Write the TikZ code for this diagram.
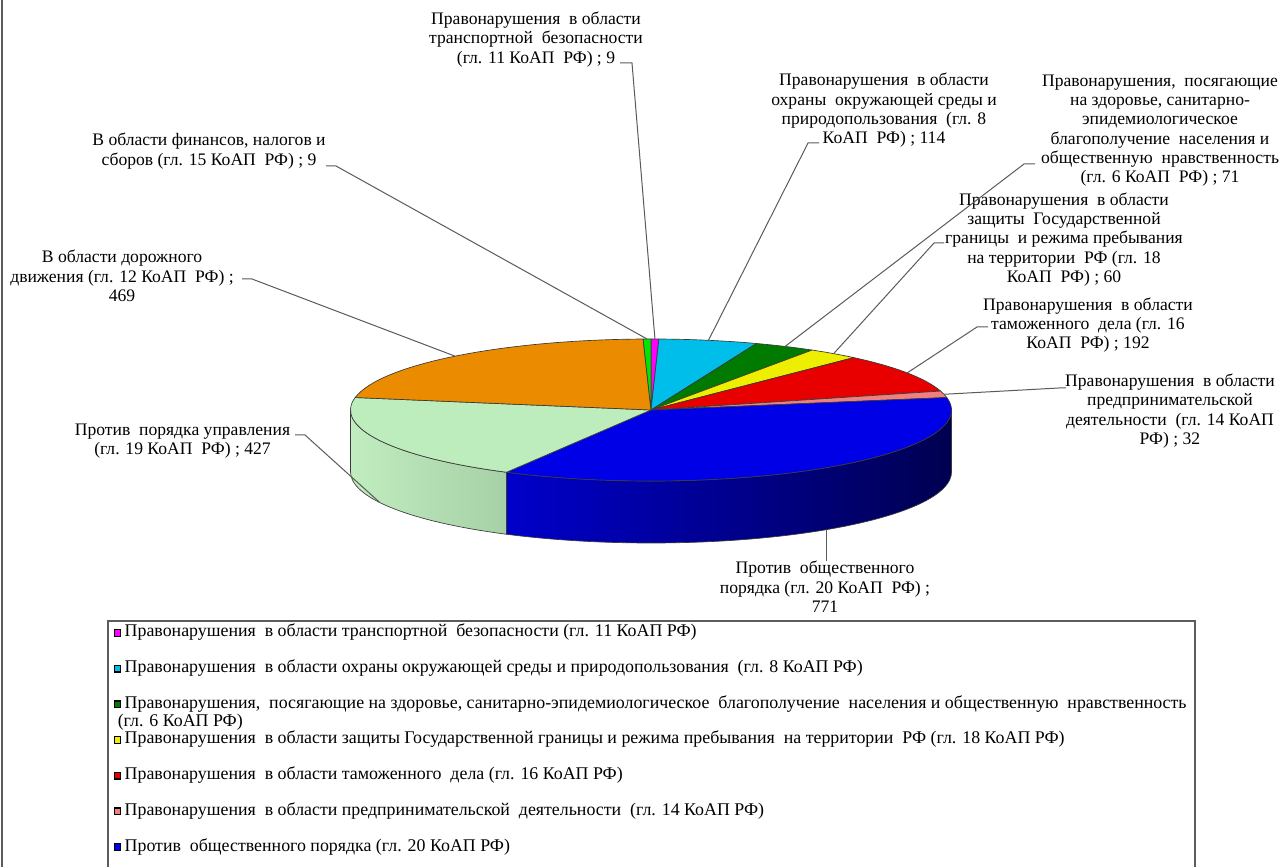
\documentclass[tikz,border=0pt]{standalone}
\usepackage{fontspec}
\setmainfont{Liberation Serif}
\usepackage{xcolor}
\usetikzlibrary{positioning}

\definecolor{trcol}{HTML}{FF00FF}
\definecolor{natcol}{HTML}{00BEEA}
\definecolor{hlthcol}{HTML}{007A00}
\definecolor{brdcol}{HTML}{EEEE00}
\definecolor{cuscol}{HTML}{E80000}
\definecolor{buscol}{HTML}{F07F7F}
\definecolor{pubcol}{HTML}{0000E6}
\definecolor{mgmtcol}{HTML}{BDECBD}
\definecolor{roadcol}{HTML}{EB8C00}
\definecolor{fincol}{HTML}{00E600}
\definecolor{edgecol}{HTML}{3A3A3A}
\definecolor{leadcol}{HTML}{5A5A5A}
\definecolor{framecol}{HTML}{5C5C5C}

\begin{document}
\begin{tikzpicture}[x=0.75pt, y=0.75pt, node distance=26.75pt]
% Define styles
\tikzstyle{slice} = [draw=edgecol, line width=0.5pt, line join=round]
\tikzstyle{pie r} = [x radius=300.5, y radius=71]
\tikzstyle{leader} = [draw=leadcol, line width=0.75pt]
\tikzstyle{lbl} = [align=center, inner sep=0pt, font=\fontsize{13.2}{14.5}\selectfont]
\tikzstyle{legmark} = [rectangle, draw=black, line width=0.9pt, minimum size=5pt, inner sep=0pt]
\tikzstyle{legtext} = [inner sep=0pt, text height=9pt, text depth=3pt, font=\fontsize{13.4}{14.5}\selectfont]

\useasboundingbox (0,0) rectangle (1280,867);
\draw [line width=1.5pt, framecol] (2,0) -- (2,867);

% Pie centre (top face and bottom face)
\coordinate (c) at (651,457);
\coordinate (cb) at (651,395);

% Front wall of the pie
\shadedraw [slice, left color=mgmtcol!95!white, right color=mgmtcol!88!black] ([shift={(-180:300.5 and 71)}]c) arc[pie r, start angle=-180, end angle=-118.747] -- ++(0,-62) arc[pie r, start angle=-118.747, end angle=-180] -- cycle;
\shadedraw [slice, left color=pubcol!88!black, right color=pubcol!35!black] ([shift={(-118.747:300.5 and 71)}]c) arc[pie r, start angle=-118.747, end angle=0] -- ++(0,-62) arc[pie r, start angle=0, end angle=-118.747] -- cycle;

% Top face, clockwise from twelve o'clock
\filldraw [slice, fill=trcol] (c) -- ++(90:300.5 and 71) arc[pie r, start angle=90, end angle=88.496] -- cycle;
\filldraw [slice, fill=natcol] (c) -- ++(88.496:300.5 and 71) arc[pie r, start angle=88.496, end angle=69.443] -- cycle;
\filldraw [slice, fill=hlthcol] (c) -- ++(69.443:300.5 and 71) arc[pie r, start angle=69.443, end angle=57.577] -- cycle;
\filldraw [slice, fill=brdcol] (c) -- ++(57.577:300.5 and 71) arc[pie r, start angle=57.577, end angle=47.549] -- cycle;
\filldraw [slice, fill=cuscol] (c) -- ++(47.549:300.5 and 71) arc[pie r, start angle=47.549, end angle=15.460] -- cycle;
\filldraw [slice, fill=buscol] (c) -- ++(15.460:300.5 and 71) arc[pie r, start angle=15.460, end angle=10.111] -- cycle;
\filldraw [slice, fill=pubcol] (c) -- ++(10.111:300.5 and 71) arc[pie r, start angle=10.111, end angle=-118.747] -- cycle;
\filldraw [slice, fill=mgmtcol] (c) -- ++(-118.747:300.5 and 71) arc[pie r, start angle=-118.747, end angle=-190.111] -- cycle;
\filldraw [slice, fill=roadcol] (c) -- ++(-190.111:300.5 and 71) arc[pie r, start angle=-190.111, end angle=-268.496] -- cycle;
\filldraw [slice, fill=fincol] (c) -- ++(-268.496:300.5 and 71) arc[pie r, start angle=-268.496, end angle=-270] -- cycle;

% Points on the rim where the leaders start
\coordinate (ptransport) at ([shift={(89.25:300.5 and 71)}]c);
\coordinate (pnature) at ([shift={(78.97:300.5 and 71)}]c);
\coordinate (phealth) at ([shift={(63.51:300.5 and 71)}]c);
\coordinate (pborder) at ([shift={(52.56:300.5 and 71)}]c);
\coordinate (pcustoms) at ([shift={(31.5:300.5 and 71)}]c);
\coordinate (pbusiness) at ([shift={(12.79:300.5 and 71)}]c);
\coordinate (ppublic) at ([shift={(-54.32:300.5 and 71)}]cb);
\coordinate (pmanagement) at ([shift={(-154.43:300.5 and 71)}]cb);
\coordinate (proad) at ([shift={(130.7:300.5 and 71)}]c);
\coordinate (pfinance) at ([shift={(90.75:300.5 and 71)}]c);

% Data labels
\node (transport) [lbl] at (536,827.5) {Правонарушения~ в области\\транспортной~ безопасности\\(гл. 11 КоАП~ РФ) ; 9};
\node (finance) [lbl] at (209,716) {В области финансов, налогов и\\сборов (гл. 15 КоАП~ РФ) ; 9};
\node (road) [lbl] at (122,591) {В области дорожного\\движения (гл. 12 КоАП~ РФ) ;\\469};
\node (management) [lbl] at (182.5,426) {Против~ порядка управления\\(гл. 19 КоАП~ РФ) ; 427};
\node (publicorder) [lbl] at (825,280) {Против~ общественного\\порядка (гл. 20 КоАП~ РФ) ;\\771};
\node (business) [lbl] at (1170,456) {Правонарушения~ в области\\предпринимательской\\деятельности~ (гл. 14 КоАП\\РФ) ; 32};
\node (customs) [lbl] at (1088,542) {Правонарушения~ в области\\таможенного~ дела (гл. 16\\КоАП~ РФ) ; 192};
\node (border) [lbl] at (1064,627.5) {Правонарушения~ в области\\защиты~ Государственной\\границы~ и режима пребывания\\на территории~ РФ (гл. 18\\КоАП~ РФ) ; 60};
\node (health) [lbl] at (1160,736.5) {Правонарушения,~ посягающие\\на здоровье, санитарно-\\эпидемиологическое\\благополучение~ населения и\\общественную~ нравственность\\(гл. 6 КоАП~ РФ) ; 71};
\node (nature) [lbl] at (884,756.5) {Правонарушения~ в области\\охраны~ окружающей среды и\\природопользования~ (гл. 8\\КоАП~ РФ) ; 114};

% Leader knees
\coordinate (ktransport) at (632,804);
\coordinate (kfinance) at (336,701);
\coordinate (kroad) at (252,588);
\coordinate (kmanagement) at (305,432);
\coordinate (kbusiness) at (1059,479);
\coordinate (kcustoms) at (977,540);
\coordinate (kborder) at (934,624);
\coordinate (khealth) at (1024,703);
\coordinate (knature) at (808,724);

% Draw leaders
\draw [leader] (ptransport) -- (ktransport) -- ++(-12,0);
\draw [leader] (pfinance) -- (kfinance) -- ++(-10,0);
\draw [leader] (proad) -- (kroad) -- ++(-10,0);
\draw [leader] (pmanagement) -- (kmanagement) -- ++(-10,0);
\draw [leader] (ppublic) -- (ppublic |- publicorder.north);
\draw [leader] (pbusiness) -- (kbusiness) -- ++(7,0);
\draw [leader] (pcustoms) -- (kcustoms) -- ++(11,0);
\draw [leader] (pborder) -- (kborder) -- ++(10,0);
\draw [leader] (phealth) -- (khealth) -- ++(11,0);
\draw [leader] (pnature) -- (knature) -- ++(11,0);

% Legend
\draw [line width=1.2pt, framecol] (108,0) -- (108,246) -- (1195,246) -- (1195,0);
\node (m1) [legmark, fill=trcol] at (117.5,234) {};
\node (m2) [legmark, fill=natcol, below of=m1] {};
\node (m3) [legmark, fill=hlthcol, below of=m2] {};
\node (m4) [legmark, fill=brdcol, below of=m3] {};
\node (m5) [legmark, fill=cuscol, below of=m4] {};
\node (m6) [legmark, fill=buscol, below of=m5] {};
\node (m7) [legmark, fill=pubcol, below of=m6] {};
\node (t1) [legtext, right=2.25pt of m1] {Правонарушения~ в области транспортной~ безопасности (гл. 11 КоАП РФ)};
\node (t2) [legtext, right=2.25pt of m2] {Правонарушения~ в области охраны окружающей среды и природопользования~ (гл. 8 КоАП РФ)};
\node (t3) [legtext, right=2.25pt of m3] {Правонарушения,~ посягающие на здоровье, санитарно-эпидемиологическое~ благополучение~ населения и общественную~ нравственность};
\node (t3b) [legtext, anchor=west] at ([yshift=-13.5pt]t3.west -| m3.center) {(гл. 6 КоАП РФ)};
\node (t4) [legtext, right=2.25pt of m4] {Правонарушения~ в области защиты Государственной границы и режима пребывания~ на территории~ РФ (гл. 18 КоАП РФ)};
\node (t5) [legtext, right=2.25pt of m5] {Правонарушения~ в области таможенного~ дела (гл. 16 КоАП РФ)};
\node (t6) [legtext, right=2.25pt of m6] {Правонарушения~ в области предпринимательской~ деятельности~ (гл. 14 КоАП РФ)};
\node (t7) [legtext, right=2.25pt of m7] {Против~ общественного порядка (гл. 20 КоАП РФ)};
\end{tikzpicture}
\end{document}
